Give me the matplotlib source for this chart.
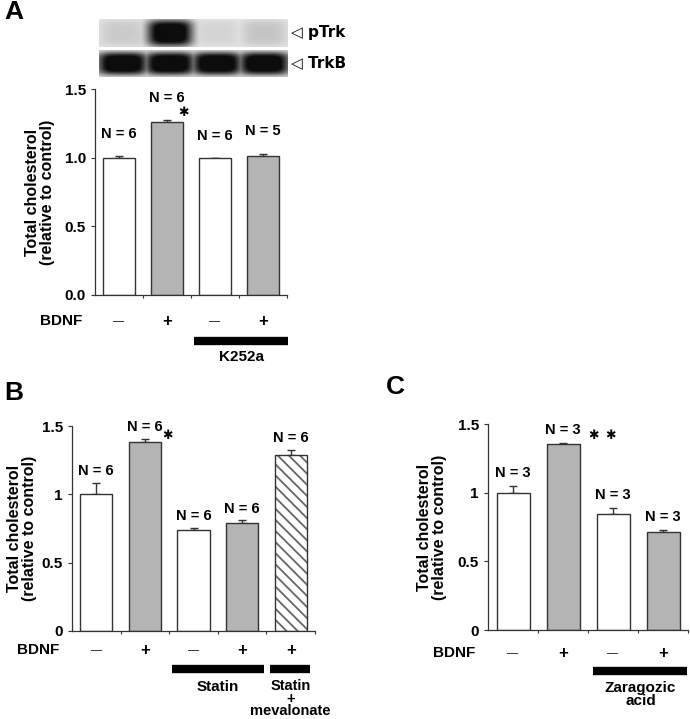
import numpy as np
import matplotlib.pyplot as plt
from matplotlib.colors import LinearSegmentedColormap

plt.rcParams['font.family'] = ['Liberation Sans', 'DejaVu Sans']
plt.rcParams['font.weight'] = 'bold'
plt.rcParams['axes.labelweight'] = 'bold'
plt.rcParams['hatch.linewidth'] = 1.3

# panel A
a_vals = [1.0, 1.26, 0.995, 1.01]
a_errs = [0.01, 0.015, 0.005, 0.02]
a_n = ['N = 6', 'N = 6', 'N = 6', 'N = 5']
a_bdnf = ['—', '+', '—', '+']
# western blot band strength per lane
ptrk_lanes = [0.10, 1.0, 0.06, 0.12]
trkb_lanes = [1.0, 1.0, 1.0, 1.0]

# panel B
b_vals = [1.0, 1.385, 0.74, 0.79, 1.29]
b_errs = [0.085, 0.02, 0.015, 0.02, 0.035]
b_n = ['N = 6'] * 5
b_bdnf = ['—', '+', '—', '+', '+']

# panel C
c_vals = [1.0, 1.355, 0.845, 0.715]
c_errs = [0.05, 0.005, 0.04, 0.01]
c_n = ['N = 3'] * 4
c_bdnf = ['—', '+', '—', '+']

GRAY = '#b4b4b4'
W, H = 690, 719
FS = 10.5


def box(x0, y0, x1, y1):
    # pixel box -> figure fraction [l, b, w, h]
    return [x0 / W, 1 - y1 / H, (x1 - x0) / W, (y1 - y0) / H]


def star(ax, x, y):
    ax.text(x, y, '✱', fontsize=9, fontweight='normal', ha='center',
            va='center', family=['DejaVu Sans'])


def bar_panel(ax, vals, errs, ntxt, bdnf, fills, noff, fmt, brow,
              hatch_idx=None):
    x = np.arange(len(vals))
    for i in x:
        if hatch_idx is not None and i == hatch_idx:
            ax.bar(i, vals[i], 0.66, color='white', edgecolor='#666666',
                   hatch='\\\\\\', linewidth=0, zorder=2)
            ax.bar(i, vals[i], 0.66, color='none', edgecolor='#333333',
                   linewidth=1.0, zorder=3)
        else:
            ax.bar(i, vals[i], 0.66, color=fills[i], edgecolor='#333333',
                   linewidth=1.0, zorder=2)
    ax.errorbar(x, vals, yerr=[np.zeros(len(vals)), errs], fmt='none',
                ecolor='#333333', elinewidth=1.0, capsize=3, capthick=1.0,
                zorder=1)
    for i in x:
        ax.text(i, vals[i] + errs[i] + noff, ntxt[i], ha='center',
                va='bottom', fontsize=FS)
    ax.set_xlim(-0.5, len(vals) - 0.5)
    ax.set_ylim(0, 1.5)
    ax.set_yticks([0, 0.5, 1.0, 1.5])
    ax.set_yticklabels([fmt % v for v in [0, 0.5, 1.0, 1.5]],
                       fontweight='bold')
    ax.set_xticks(np.arange(len(vals)) + 0.5)
    ax.set_xticklabels([])
    ax.tick_params(axis='y', direction='out', length=3, labelsize=11,
                   width=0.8, colors='#333333', labelcolor='black')
    ax.tick_params(axis='x', direction='out', length=2.5, width=0.8,
                   colors='#333333')
    for s in ['top', 'right']:
        ax.spines[s].set_visible(False)
    for s in ['left', 'bottom']:
        ax.spines[s].set_linewidth(0.9)
        ax.spines[s].set_color('#333333')
    ax.set_ylabel('Total cholesterol\n(relative to control)', fontsize=11.5,
                  linespacing=1.0, fontweight='bold')
    for i in x:
        ax.text(i, brow, bdnf[i], ha='center', va='center',
                fontsize=12 if bdnf[i] == '+' else 8, fontweight='normal'
                if bdnf[i] != '+' else 'bold')
    ax.text(-0.5, brow, 'BDNF   ', ha='right', va='center', fontsize=11)


fig = plt.figure(figsize=(6.9, 7.19), dpi=100)

# ---------- A ----------
axA = fig.add_axes(box(95, 89, 287, 295))
bar_panel(axA, a_vals, a_errs, a_n, a_bdnf, ['white', GRAY, 'white', GRAY],
          0.11, '%.1f', -0.19)
axA.yaxis.set_label_coords(-0.21, 0.5)
star(axA, 1.34, 1.33)
axA.plot([1.56, 3.52], [-0.335, -0.335], color='black', lw=6,
         solid_capstyle='butt', clip_on=False)
axA.text(2.55, -0.455, 'K252a', ha='center', va='center', fontsize=11)

# blot lanes
gray_map = LinearSegmentedColormap.from_list('blot', ['#e4e4e4', '#0c0c0c'])
xx = np.linspace(-0.5, 3.5, 400)
yy = np.linspace(-1, 1, 60)
for lanes, (y0, y1), bg, gw, gh in [(ptrk_lanes, (19, 47), 0.0, 0.48, 0.95),
                                    (trkb_lanes, (50, 77), 0.14, 0.54, 0.85)]:
    axb = fig.add_axes(box(99, y0, 288, y1))
    img = np.full((len(yy), len(xx)), bg)
    for k, s in enumerate(lanes):
        gx = np.exp(-((xx - k) / gw) ** 4)
        gy = np.exp(-(yy / gh) ** 4)
        img = np.maximum(img, s * np.outer(gy, gx) * 1.2)
    axb.imshow(np.clip(img, 0, 1), cmap=gray_map, vmin=0, vmax=1,
               aspect='auto', interpolation='bilinear')
    axb.set_xticks([])
    axb.set_yticks([])
    for s in axb.spines.values():
        s.set_visible(False)
fig.text(291 / W, 1 - 33 / H, '◁ pTrk', fontsize=11, va='center',
         family=['DejaVu Sans'], fontweight='bold')
fig.text(291 / W, 1 - 63 / H, '◁ TrkB', fontsize=11, va='center',
         family=['DejaVu Sans'], fontweight='bold')
fig.text(4 / W, 1 - 12 / H, 'A', fontsize=19, va='center')

# ---------- B ----------
axB = fig.add_axes(box(72, 426, 315, 631))
bar_panel(axB, b_vals, b_errs, b_n, b_bdnf,
          ['white', GRAY, 'white', GRAY, 'white'], 0.035, '%g', -0.14,
          hatch_idx=4)
axB.yaxis.set_label_coords(-0.145, 0.5)
star(axB, 1.47, 1.43)
axB.plot([1.55, 3.45], [-0.275, -0.275], color='black', lw=6,
         solid_capstyle='butt', clip_on=False)
axB.plot([3.57, 4.4], [-0.275, -0.275], color='black', lw=6,
         solid_capstyle='butt', clip_on=False)
axB.text(2.5, -0.41, 'Statin', ha='center', va='center', fontsize=11)
axB.text(4.0, -0.495, 'Statin\n+\nmevalonate', ha='center', va='center',
         fontsize=10.5, linespacing=0.85)
fig.text(4 / W, 1 - 393 / H, 'B', fontsize=19, va='center')

# ---------- C ----------
axC = fig.add_axes(box(488, 424, 688, 630))
bar_panel(axC, c_vals, c_errs, c_n, c_bdnf, ['white', GRAY, 'white', GRAY],
          0.045, '%g', -0.17)
axC.yaxis.set_label_coords(-0.205, 0.5)
star(axC, 1.6, 1.415)
star(axC, 1.95, 1.415)
axC.plot([1.6, 3.47], [-0.30, -0.30], color='black', lw=6,
         solid_capstyle='butt', clip_on=False)
axC.text(2.55, -0.47, 'Zaragozic\nacid', ha='center', va='center',
         fontsize=11, linespacing=0.95)
fig.text(386 / W, 1 - 387 / H, 'C', fontsize=19, va='center')

plt.savefig('out.png', dpi=100)
